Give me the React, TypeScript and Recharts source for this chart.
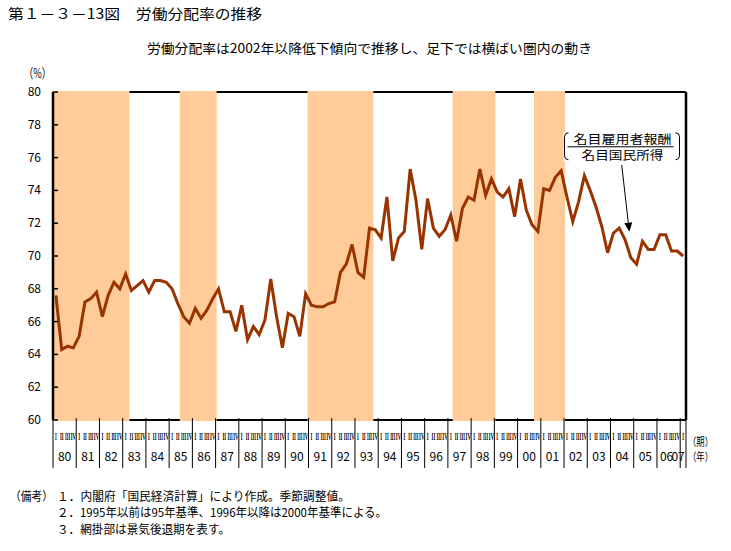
import React from 'react';
import { LineChart, Line, XAxis, YAxis, ReferenceArea, ReferenceLine, ReferenceDot } from 'recharts';

// ---- data ----
const years = ['80','81','82','83','84','85','86','87','88','89','90','91','92','93','94','95','96','97','98','99','00','01','02','03','04','05','06','07'];
const quarterLabels = ['I', 'II', 'III', 'IV'];
const yTicks = [60, 62, 64, 66, 68, 70, 72, 74, 76, 78, 80];
// labour share (%), quarterly 1980 I - 2007 I
const laborShare = [
  67.6, 64.3, 64.5, 64.4, // 80
  65.1, 67.2, 67.4, 67.8, // 81
  66.3, 67.6, 68.4, 68.0, // 82
  68.9, 67.9, 68.2, 68.5, // 83
  67.8, 68.5, 68.5, 68.4, // 84
  68.0, 67.1, 66.3, 65.9, // 85
  66.8, 66.2, 66.7, 67.4, // 86
  68.0, 66.6, 66.6, 65.4, // 87
  67.0, 64.9, 65.7, 65.2, // 88
  66.1, 68.6, 66.3, 64.4, // 89
  66.5, 66.3, 65.1, 67.7, // 90
  67.0, 66.9, 66.9, 67.1, // 91
  67.2, 69.0, 69.5, 70.7, // 92
  69.0, 68.7, 71.7, 71.6, // 93
  71.1, 73.6, 69.7, 71.1, // 94
  71.5, 75.3, 73.4, 70.4, // 95
  73.5, 71.7, 71.2, 71.6, // 96
  72.5, 70.9, 72.9, 73.6, // 97
  73.4, 75.3, 73.7, 74.7, // 98
  73.9, 73.6, 74.1, 72.4, // 99
  74.7, 72.8, 71.9, 71.5, // 00
  74.1, 74.0, 74.8, 75.2, // 01
  73.6, 72.1, 73.3, 74.9, // 02
  74.0, 73.0, 71.8, 70.2, // 03
  71.4, 71.7, 71.0, 69.9, // 04
  69.5, 70.9, 70.4, 70.4, // 05
  71.3, 71.3, 70.3, 70.3, // 06
  70.0,                   // 07
];
// recession periods, as [first quarter index, quarter index after last]
const recessionStarts = [0, 22, 44, 69, 83];
const recessionEnds = [13, 28, 55, 76, 88];

const nQ = laborShare.length;
const data = laborShare.map((v, i) => ({ x: i + 0.5, v }));
const quarterCenters = laborShare.map((_, i) => i + 0.5);
const yearBoundaries = [...years.map((_, i) => i * 4).filter((b) => b < nQ), nQ];
const yearCenters = years.map((_, i) => Math.min(i * 4 + 2, (i * 4 + nQ) / 2));

const FONT = '"Noto Sans CJK JP", "Noto Sans", sans-serif';
const quarterLen: Record<string, number> = { I: 1.8, II: 3.6, III: 5.2, IV: 5.4 };

const BoundaryTick = (p: any) => (
  <line x1={p.x} x2={p.x} y1={p.y - 2} y2={p.y + 48} stroke="#000" strokeWidth={1} />
);

const QuarterTick = (p: any) => {
  const label = quarterLabels[Math.floor(p.payload.value) % 4];
  return (
    <text x={p.x} y={p.y + 19} textAnchor="middle" fontSize={11} fontFamily="Liberation Serif" fontWeight="bold"
      textLength={quarterLen[label]} lengthAdjust="spacingAndGlyphs" fill="#000">{label}</text>
  );
};

const YearTick = (p: any) => {
  const idx = Math.floor(p.payload.value / 4);
  const label = years[idx];
  const dx = label === '06' ? -2 : label === '07' ? -5 : 0;
  return (
    <text x={p.x + dx} y={p.y + 39} textAnchor="middle" fontSize={12} fontFamily={FONT} fill="#000">{label}</text>
  );
};

const YTick = (p: any) => (
  <g>
    <text x={p.x} y={p.y + 4} textAnchor="end" fontSize={12} fontFamily={FONT} fill="#000">{p.payload.value}</text>
    <line x1={p.x + 12} x2={p.x + 17} y1={p.y} y2={p.y} stroke="#000" strokeWidth={1.5} />
  </g>
);

const ArrowShape = (p: any) => {
  const { x1, y1, x2, y2 } = p;
  if ([x1, y1, x2, y2].some((v) => v == null || isNaN(v))) return null;
  const ang = Math.atan2(y2 - y1, x2 - x1);
  const L = 9, Wd = 4;
  const bx = x2 - L * Math.cos(ang), by = y2 - L * Math.sin(ang);
  const px = -Math.sin(ang) * Wd, py = Math.cos(ang) * Wd;
  return (
    <g>
      <line x1={x1} y1={y1} x2={bx} y2={by} stroke="#000" strokeWidth={1} />
      <polygon points={`${x2},${y2} ${bx + px},${by + py} ${bx - px},${by - py}`} fill="#000" />
    </g>
  );
};

const FractionShape = (p: any) => {
  const { cx, cy } = p;
  if (cx == null || cy == null) return null;
  const hw = 53;
  return (
    <g>
      <rect x={cx - hw - 4} y={cy - 15} width={2 * hw + 8} height={30} fill="#fff" />
      <text x={cx + 2} y={cy - 3} textAnchor="middle" fontSize={12} fontFamily={FONT} textLength={98} lengthAdjust="spacingAndGlyphs" fill="#000">名目雇用者報酬</text>
      <line x1={cx - hw} x2={cx + hw} y1={cy} y2={cy} stroke="#000" strokeWidth={1} />
      <text x={cx + 2} y={cy + 13} textAnchor="middle" fontSize={12} fontFamily={FONT} textLength={82} lengthAdjust="spacingAndGlyphs" fill="#000">名目国民所得</text>
      <path d={`M ${cx - hw + 1} ${cy - 14} Q ${cx - hw - 3} ${cy - 14} ${cx - hw - 3} ${cy - 10} L ${cx - hw - 3} ${cy + 9} Q ${cx - hw - 3} ${cy + 13} ${cx - hw + 1} ${cy + 13}`} fill="none" stroke="#000" strokeWidth={1} />
      <path d={`M ${cx + hw + 2} ${cy - 14} Q ${cx + hw + 6} ${cy - 14} ${cx + hw + 6} ${cy - 10} L ${cx + hw + 6} ${cy + 9} Q ${cx + hw + 6} ${cy + 13} ${cx + hw + 2} ${cy + 13}`} fill="none" stroke="#000" strokeWidth={1} />
    </g>
  );
};

export default function App() {
  return (
    <div style={{ position: 'absolute', left: 0, top: 0, width: 731, height: 551, background: '#fff' }}>
      <div style={{ position: 'absolute', left: 0, top: 0 }}>
        <LineChart width={731} height={551} data={data} margin={{ top: 92, right: 45, bottom: 128, left: 13 }}>
          <ReferenceLine y={80} stroke="#000" strokeWidth={2} zIndex={50} />
          <ReferenceLine y={60} stroke="#000" strokeWidth={2} zIndex={50} />
          <ReferenceLine x={nQ} stroke="#000" strokeWidth={2.5} zIndex={50} />
          {recessionStarts.map((s, i) => (
            <ReferenceArea key={i} x1={s} x2={recessionEnds[i]} y1={60} y2={80} fill="#FFCC99" fillOpacity={1} stroke="#FFCC99" strokeWidth={2} zIndex={60} />
          ))}
          <XAxis dataKey="x" type="number" domain={[0, nQ]} ticks={yearBoundaries} interval={0} height={1}
            axisLine={false} tickLine={false} tickSize={0} tickMargin={0} tick={BoundaryTick} />
          <XAxis xAxisId="q" dataKey="x" type="number" domain={[0, nQ]} ticks={quarterCenters} interval={0} height={1}
            axisLine={false} tickLine={false} tickSize={0} tickMargin={0} tick={QuarterTick} />
          <XAxis xAxisId="yr" dataKey="x" type="number" domain={[0, nQ]} ticks={yearCenters} interval={0} height={1}
            axisLine={false} tickLine={false} tickSize={0} tickMargin={0} tick={YearTick} />
          <YAxis type="number" domain={[60, 80]} ticks={yTicks} interval={0} width={40}
            axisLine={{ stroke: '#000', strokeWidth: 2.5 }} tickLine={false} tickSize={0} tickMargin={12} tick={YTick} />
          <Line dataKey="v" type="linear" stroke="#993300" strokeWidth={3} dot={false} isAnimationActive={false} />
          <ReferenceLine segment={[{ x: 97.93, y: 75.55 }, { x: 99.24, y: 71.48 }]} shape={ArrowShape} />
          <ReferenceDot x={97.72} y={76.66} shape={FractionShape} />
        </LineChart>
      </div>
      <svg width={731} height={551} style={{ position: 'absolute', left: 0, top: 0, pointerEvents: 'none' }}>
        <g fontFamily={FONT} fill="#000">
          <text x={8} y={19} fontSize={14} textLength={254} lengthAdjust="spacingAndGlyphs">第１－３－13図　労働分配率の推移</text>
          <text x={147} y={53} fontSize={13} textLength={445} lengthAdjust="spacingAndGlyphs">労働分配率は2002年以降低下傾向で推移し、足下では横ばい圏内の動き</text>
          <text x={24} y={78} fontSize={13} textLength={27} lengthAdjust="spacingAndGlyphs">（%）</text>
          <text x={688} y={446} fontSize={11} textLength={25} lengthAdjust="spacingAndGlyphs">（期）</text>
          <text x={688} y={461} fontSize={11} textLength={25} lengthAdjust="spacingAndGlyphs">（年）</text>
          <text x={10} y={501} fontSize={12} textLength={43} lengthAdjust="spacingAndGlyphs">（備考）</text>
          <text x={57} y={501} fontSize={12} textLength={293} lengthAdjust="spacingAndGlyphs">１．内閣府「国民経済計算」により作成。季節調整値。</text>
          <text x={57} y={517} fontSize={12} textLength={330} lengthAdjust="spacingAndGlyphs">２．1995年以前は95年基準、1996年以降は2000年基準による。</text>
          <text x={57} y={534} fontSize={12} textLength={173} lengthAdjust="spacingAndGlyphs">３．網掛部は景気後退期を表す。</text>
        </g>
      </svg>
    </div>
  );
}
